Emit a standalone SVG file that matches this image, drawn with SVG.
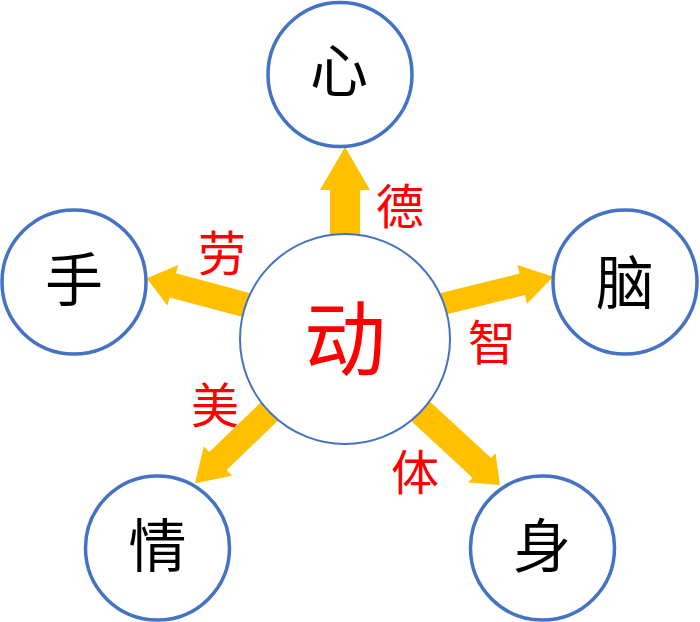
<svg xmlns="http://www.w3.org/2000/svg" width="700" height="622" viewBox="0 0 700 622">
<style>
.arrow{fill:#FFC000;stroke:none}
.node{fill:#FFFFFF;stroke:#4472C4;stroke-width:3.5}
.hub{fill:#FFFFFF;stroke:#4472C4;stroke-width:2}
.t{font-family:"Noto Sans CJK SC","Microsoft YaHei",sans-serif;text-anchor:middle;font-weight:400}
.blk{fill:#000000;font-size:58px}
.red{fill:#FF0000;font-size:48px}
.big{fill:#FF0000;font-size:82px}
</style>
<rect width="700" height="622" fill="#FFFFFF"/>
<g id="connectors">
<polygon class="arrow" points="345,147 370,190 360,190 360,250 330,250 330,190 320,190"/>
<polygon class="arrow" points="146.7,278.3 178.2,265.0 176.0,273.2 270.7,298.6 264.3,322.8 169.6,297.4 167.4,305.6"/>
<polygon class="arrow" points="553.3,276.7 517.4,264.9 519.6,273.6 424.5,297.0 429.7,318.4 524.8,295.0 527.0,303.7"/>
<polygon class="arrow" points="195,483.3 203.8,446.4 209.3,452.1 279.8,384.1 297.2,402.1 226.7,470.1 232.2,475.8"/>
<polygon class="arrow" points="500,485 495.5,453.3 491.1,458.0 414.7,387.5 396.1,407.1 472.5,477.7 468.1,482.4"/>
<text class="t red" x="400" y="224">德</text>
<text class="t red" x="222" y="271">劳</text>
<text class="t red" x="492" y="360">智</text>
<text class="t red" x="215" y="423">美</text>
<text class="t red" x="415" y="490">体</text>
</g>
<g id="hub">
<circle class="hub" cx="345" cy="339" r="105"/>
<text class="t big" x="345" y="369">动</text>
</g>
<g id="node-xin">
<circle class="node" cx="340" cy="74.5" r="72"/>
<text class="t blk" x="339" y="92">心</text>
</g>
<g id="node-shou">
<circle class="node" cx="74" cy="282" r="72"/>
<text class="t blk" x="74" y="301">手</text>
</g>
<g id="node-nao">
<circle class="node" cx="625" cy="282" r="72"/>
<text class="t blk" x="625" y="304">脑</text>
</g>
<g id="node-qing">
<circle class="node" cx="157.5" cy="548" r="72"/>
<text class="t blk" x="157.5" y="567">情</text>
</g>
<g id="node-shen">
<circle class="node" cx="542.5" cy="548" r="72"/>
<text class="t blk" x="542" y="567">身</text>
</g>
</svg>
